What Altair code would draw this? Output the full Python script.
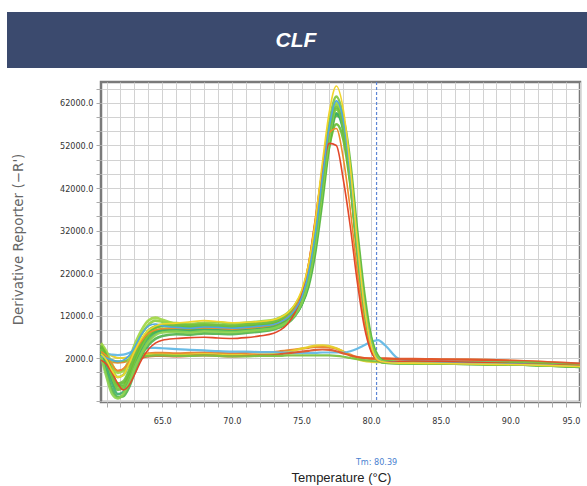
import altair as alt
import pandas as pd

# Temperatures (°C) at which the melt-curve derivative is sampled
temps = [60.6, 61.0, 61.4, 61.8, 62.2, 62.6, 63.0, 63.5, 64.0, 64.5,
         65.0, 66.0, 67.0, 68.0, 69.0, 70.0, 71.0, 72.0, 73.0,
         73.5, 74.0, 74.5, 75.0, 75.5, 76.0, 76.5, 77.0, 77.5, 78.0,
         78.5, 79.0, 79.5, 80.0, 80.5, 81.0,
         82.0, 83.0, 85.0, 87.0, 89.0, 91.0, 93.0, 95.0]

# Derivative reporter values (thousands)
green_1 = [4.0, 1.0, -3.0, -5.5, -5.0, -2.5, 1.0, 4.5, 7.0, 8.3,
           8.8, 9.0, 8.8, 9.1, 9.0, 8.9, 9.2, 9.4, 9.8,
           10.4, 11.3, 12.8, 15.5, 20.5, 29.5, 42.0, 54.5, 60.5, 56.0, 44.5, 28.5, 14.5, 5.5, 1.8, 1.0,
           0.9, 0.9, 0.8, 0.7, 0.6, 0.5, 0.3, 0.0]
green_2 = [5.0, 3.0, -0.5, -2.5, -2.0, 0.5, 4.0, 7.5, 9.8, 10.8,
           10.5, 10.2, 10.0, 10.3, 10.4, 10.1, 10.3, 10.6, 11.0,
           11.6, 12.6, 14.3, 17.2, 23.0, 32.5, 45.0, 56.5, 61.5, 56.5, 44.0, 27.0, 13.5, 4.8, 1.5, 0.9,
           0.8, 0.8, 0.7, 0.7, 0.5, 0.4, 0.2, -0.1]
green_3 = [3.0, -1.5, -5.5, -7.2, -7.0, -5.0, -1.5, 2.5, 5.0, 6.5,
           7.2, 7.6, 7.5, 7.8, 7.7, 7.6, 7.9, 8.2, 8.7,
           9.3, 10.2, 11.8, 14.5, 19.5, 28.0, 40.5, 53.0, 59.5, 56.5, 46.0, 30.5, 16.0, 6.5, 2.2, 1.2,
           1.0, 0.9, 0.8, 0.7, 0.6, 0.5, 0.3, 0.0]
green_4 = [5.5, 3.5, 0.5, -1.5, -1.0, 1.5, 5.0, 8.5, 10.8, 11.5,
           11.0, 10.0, 9.6, 9.8, 9.7, 9.5, 9.8, 10.0, 10.4,
           11.0, 12.0, 13.8, 16.8, 22.5, 32.0, 44.5, 56.0, 62.0, 57.5, 45.0, 28.0, 14.0, 5.0, 1.6, 1.0,
           0.9, 0.8, 0.8, 0.7, 0.6, 0.5, 0.3, 0.1]
green_5 = [4.5, 2.0, -2.0, -4.5, -4.5, -2.0, 1.5, 5.0, 7.2, 8.2,
           8.5, 8.4, 8.3, 8.6, 8.5, 8.4, 8.7, 9.0, 9.4,
           10.0, 10.8, 12.2, 14.5, 18.8, 27.0, 39.0, 52.0, 59.0, 58.0, 48.0, 32.0, 17.5, 7.0, 2.5, 1.2,
           1.0, 0.9, 0.8, 0.7, 0.6, 0.5, 0.3, 0.0]
green_6 = [3.5, 0.0, -4.0, -6.5, -6.0, -3.5, 0.0, 3.5, 6.2, 7.8,
           8.5, 8.8, 8.5, 8.7, 8.6, 8.5, 8.6, 8.8, 9.1,
           9.7, 10.6, 12.0, 14.6, 19.5, 28.5, 41.0, 53.5, 59.5, 55.5, 44.0, 28.0, 14.0, 5.0, 1.6, 0.9,
           0.8, 0.8, 0.7, 0.6, 0.5, 0.4, 0.2, -0.1]
green_7 = [4.2, 1.5, -2.5, -5.0, -4.8, -2.2, 1.2, 4.8, 7.5, 9.0,
           9.5, 9.6, 9.4, 9.7, 9.6, 9.4, 9.6, 9.9, 10.3,
           11.0, 12.0, 13.8, 17.0, 23.0, 33.0, 46.0, 57.5, 63.5, 58.5, 45.5, 28.5, 14.0, 5.0, 1.5, 0.9,
           0.8, 0.8, 0.7, 0.6, 0.5, 0.4, 0.2, 0.0]
green_8 = [4.8, 2.5, -1.5, -4.0, -3.8, -1.5, 2.0, 5.5, 8.0, 9.2,
           9.6, 9.5, 9.3, 9.5, 9.4, 9.2, 9.5, 9.7, 10.1,
           10.7, 11.6, 13.0, 15.8, 21.0, 30.0, 41.5, 52.0, 57.0, 53.5, 43.0, 28.0, 14.5, 5.5, 1.8, 1.0,
           0.9, 0.9, 0.8, 0.7, 0.6, 0.5, 0.3, 0.0]
green_9 = [2.5, -2.5, -6.5, -7.5, -6.5, -4.0, -0.5, 3.0, 5.8, 7.4,
           8.0, 8.2, 8.0, 8.3, 8.2, 8.1, 8.3, 8.6, 9.0,
           9.6, 10.5, 12.0, 14.8, 20.0, 29.0, 41.5, 54.0, 60.5, 57.0, 45.5, 29.5, 15.0, 5.8, 2.0, 1.1,
           0.9, 0.9, 0.8, 0.7, 0.6, 0.5, 0.3, 0.0]
green_10 = [4.0, 1.5, -2.0, -4.0, -3.5, -1.0, 2.5, 6.0, 8.5, 9.5,
            9.8, 9.8, 9.7, 9.9, 9.8, 9.6, 9.9, 10.2, 10.6,
            11.2, 12.2, 13.8, 16.5, 22.0, 31.0, 43.5, 55.5, 61.0, 56.0, 43.5, 27.0, 13.0, 4.5, 1.4, 0.9,
            0.8, 0.8, 0.7, 0.6, 0.5, 0.4, 0.2, 0.0]
yellow_pos = [3.0, 1.5, -1.0, -2.5, -2.0, 0.5, 3.5, 6.5, 8.5, 9.5,
              10.0, 10.2, 10.5, 10.8, 10.6, 10.3, 10.4, 10.6, 11.0,
              11.6, 12.6, 14.5, 17.8, 24.0, 34.5, 48.0, 60.0, 66.0, 60.5, 47.0, 29.5, 14.5, 5.0, 1.5, 1.0,
              0.8, 0.8, 0.7, 0.6, 0.5, 0.4, 0.2, 0.0]
cyan_pos = [2.5, 2.0, 1.5, 1.2, 1.5, 2.5, 4.5, 7.5, 9.5, 10.0,
            9.6, 9.2, 9.0, 9.3, 9.2, 9.0, 9.2, 9.5, 9.9,
            10.5, 11.5, 13.2, 16.2, 22.0, 31.5, 44.5, 56.5, 62.5, 58.0, 45.5, 29.0, 14.5, 5.2, 1.6, 1.0,
            0.9, 0.8, 0.8, 0.7, 0.6, 0.5, 0.3, 0.0]
red_pos = [1.5, 0.5, -1.5, -4.0, -5.5, -4.5, -2.0, 1.5, 4.0, 5.5,
           6.2, 6.6, 6.8, 6.9, 6.7, 6.6, 6.8, 7.2, 7.8,
           8.6, 10.0, 12.5, 16.5, 24.0, 35.0, 46.0, 52.5, 52.0, 44.0, 33.0, 20.0, 9.5, 3.5, 1.5, 1.0,
           1.2, 1.3, 1.2, 1.0, 0.8, 0.6, 0.4, 0.2]
orange_pos = [3.5, 2.5, 0.5, -1.0, -0.5, 1.0, 3.5, 6.0, 7.8, 8.6,
              8.9, 9.0, 8.9, 9.1, 9.0, 8.8, 9.0, 9.3, 9.8,
              10.5, 11.6, 13.5, 17.0, 24.0, 34.5, 46.5, 55.0, 56.0, 49.0, 37.0, 22.5, 10.5, 3.8, 1.4, 1.0,
              0.9, 0.9, 0.8, 0.7, 0.6, 0.5, 0.3, 0.1]
orange_neg = [1.5, 1.2, 1.0, 0.9, 1.0, 1.5, 2.2, 2.8, 3.1, 3.2,
              3.2, 3.1, 3.2, 3.3, 3.2, 3.1, 3.2, 3.3, 3.4,
              3.6, 3.8, 4.0, 4.2, 4.4, 4.6, 4.6, 4.5, 4.2, 3.5, 2.8, 2.2, 2.0, 1.8, 1.8, 1.8,
              1.7, 1.7, 1.6, 1.6, 1.5, 1.3, 1.0, 0.6]
yellow_neg = [4.0, 3.2, 2.5, 2.0, 2.0, 2.2, 2.5, 2.7, 2.8, 2.8,
              2.8, 2.7, 2.8, 2.9, 2.8, 2.7, 2.7, 2.8, 2.9,
              3.1, 3.4, 3.8, 4.2, 4.6, 4.9, 5.0, 4.8, 4.3, 3.5, 2.6, 1.8, 1.3, 1.1, 1.0, 1.0,
              1.0, 0.9, 0.9, 0.9, 0.8, 0.8, 0.7, 0.5]
cyan_neg = [3.5, 3.0, 2.8, 2.7, 2.8, 3.2, 3.8, 4.2, 4.4, 4.4,
            4.3, 4.1, 3.9, 3.8, 3.6, 3.5, 3.5, 3.4, 3.4,
            3.3, 3.3, 3.2, 3.2, 3.2, 3.2, 3.3, 3.3, 3.3, 3.3, 3.6, 4.2, 5.0, 5.8, 6.2, 5.0,
            1.8, 1.4, 1.2, 1.1, 1.0, 0.9, 0.8, 0.6]
red_neg = [2.5, 1.5, 0.0, -1.0, -0.8, 0.2, 1.2, 2.0, 2.4, 2.5,
           2.5, 2.4, 2.5, 2.6, 2.5, 2.4, 2.5, 2.6, 2.7,
           2.9, 3.1, 3.3, 3.5, 3.7, 3.9, 4.0, 3.9, 3.6, 3.1, 2.6, 2.2, 2.0, 1.9, 1.9, 1.9,
           1.8, 1.8, 1.7, 1.6, 1.5, 1.3, 1.0, 0.7]
green_neg = [3.0, 2.2, 1.5, 1.2, 1.3, 1.6, 2.0, 2.3, 2.5, 2.6,
             2.6, 2.5, 2.5, 2.6, 2.5, 2.4, 2.4, 2.5, 2.5,
             2.5, 2.6, 2.6, 2.6, 2.6, 2.6, 2.6, 2.6, 2.5, 2.3, 2.0, 1.7, 1.5, 1.3, 1.2, 1.2,
             1.1, 1.1, 1.0, 1.0, 1.0, 1.0, 0.6, 0.3]

tm_value = 80.39
x_tick_values = list(range(61, 96))
x_label_values = [65, 70, 75, 80, 85, 90, 95]
y_grid_values = [-8000, -4667, -1333, 2000, 5333, 8667, 12000, 15333, 18667, 22000,
                 25333, 28667, 32000, 35333, 38667, 42000, 45333, 48667, 52000,
                 55333, 58667, 62000, 65333]
y_label_values = [2000, 12000, 22000, 32000, 42000, 52000, 62000]

negatives = [("orange_neg", orange_neg, "#e8822a"), ("yellow_neg", yellow_neg, "#e6d02a"),
             ("cyan_neg", cyan_neg, "#63b8e6"), ("red_neg", red_neg, "#e0552a"),
             ("green_neg", green_neg, "#7cc242")]
greens = [("g1", green_1, "#6fbf3a"), ("g2", green_2, "#8ccf3c"), ("g3", green_3, "#4fb34a"),
          ("g4", green_4, "#9ed640"), ("g5", green_5, "#5cb83a"), ("g6", green_6, "#3cae6a"),
          ("g7", green_7, "#7ec63e"), ("g8", green_8, "#66bb33"), ("g9", green_9, "#8bd14c"),
          ("g10", green_10, "#72c043")]
accents = [("orange_pos", orange_pos, "#ee8a2a"), ("red_pos", red_pos, "#e2482a"),
           ("cyan_pos", cyan_pos, "#4fa8e0"), ("yellow_pos", yellow_pos, "#f1d52c")]


def frame(series_list):
    rows = []
    for name, vals, col in series_list:
        for t, v in zip(temps, vals):
            rows.append({"series": name, "color": col, "T": t, "v": v * 1000})
    return pd.DataFrame(rows)


label_font = "Liberation Sans Narrow, DejaVu Sans Condensed, Arial, sans-serif"

x_enc = alt.X(
    "T:Q",
    scale=alt.Scale(domain=[60.6, 95], nice=False, zero=False),
    axis=alt.Axis(
        values=x_tick_values,
        labelExpr="indexof(" + str(x_label_values) + ", datum.value) >= 0 ? format(datum.value, '.1f') : ''",
        labelOverlap=False, labelFlush=True, labelFlushOffset=0,
        title="Temperature (°C)", grid=True, gridColor="#d2d2d2", gridWidth=1,
        domain=False, tickSize=5, tickColor="#aaaaaa",
        labelFont=label_font, labelFontSize=9, labelColor="#333333", labelPadding=9,
        titleFont="Liberation Sans Narrow, Arial, sans-serif", titleFontSize=13,
        titleFontWeight="normal", titleColor="#222222",
        titleX=240, titleY=75, titleAlign="center", titleBaseline="middle",
    ),
)
y_enc = alt.Y(
    "v:Q",
    scale=alt.Scale(domain=[-8350, 66940], nice=False, zero=False),
    axis=alt.Axis(
        values=y_grid_values,
        labelExpr="indexof(" + str(y_label_values) + ", datum.value) >= 0 ? format(datum.value, '.1f') : ''",
        labelOverlap=False, labelFlush=False,
        title="Derivative Reporter (\u2212R')", grid=True, gridColor="#d2d2d2", gridWidth=1,
        domain=False, tickSize=5, tickColor="#aaaaaa",
        labelFont=label_font, labelFontSize=9, labelColor="#333333", labelPadding=3,
        titleFont="DejaVu Sans, sans-serif", titleFontSize=13.5,
        titleFontWeight="normal", titleColor="#666666",
        titleX=-83, titleY=157, titleAlign="center", titleBaseline="middle",
    ),
)


def lines(df, width, opacity):
    return alt.Chart(df).mark_line(strokeWidth=width, opacity=opacity, interpolate="monotone").encode(
        x=x_enc, y=y_enc, detail="series:N",
        color=alt.Color("color:N", scale=None), order="T:Q")


neg_layer = lines(frame(negatives), 2.2, 0.95)
green_layer = lines(frame(greens), 2.6, 0.9)
accent_layer = lines(frame(accents), 1.6, 1.0)

tm_df = pd.DataFrame({"T": [tm_value], "label": ["Tm: " + str(tm_value)]})
tm_rule = alt.Chart(tm_df).mark_rule(color="#5d86d6", strokeDash=[3, 2], strokeWidth=1.2).encode(x=x_enc)
tm_text = alt.Chart(tm_df).mark_text(color="#4a7fd0", fontSize=9, font=label_font).encode(
    x=x_enc, y=alt.value(380), text="label:N")

banner_df = pd.DataFrame({"name": ["CLF"]})
banner = alt.Chart(banner_df).mark_rect(color="#3b4a6e").encode(
    x=alt.value(-94), x2=alt.value(486), y=alt.value(-70), y2=alt.value(-14))
banner_text = alt.Chart(banner_df).mark_text(
    color="white", fontSize=21, fontStyle="italic", fontWeight="bold",
    font="Liberation Sans Narrow, Arial Narrow, sans-serif").encode(
    x=alt.value(195), y=alt.value(-41), text="name:N")

chart = alt.layer(
    tm_rule, neg_layer, green_layer, accent_layer, tm_text, banner, banner_text
).properties(
    width=479, height=320,
    autosize=alt.AutoSizeParams(type="none"),
    padding={"left": 101, "top": 82, "right": 7, "bottom": 84},
    background="white",
).configure_view(stroke="#7a7a7a", strokeWidth=2.5, fill="white")

chart.save("out.html", embed_options={"renderer": "svg", "actions": False})
